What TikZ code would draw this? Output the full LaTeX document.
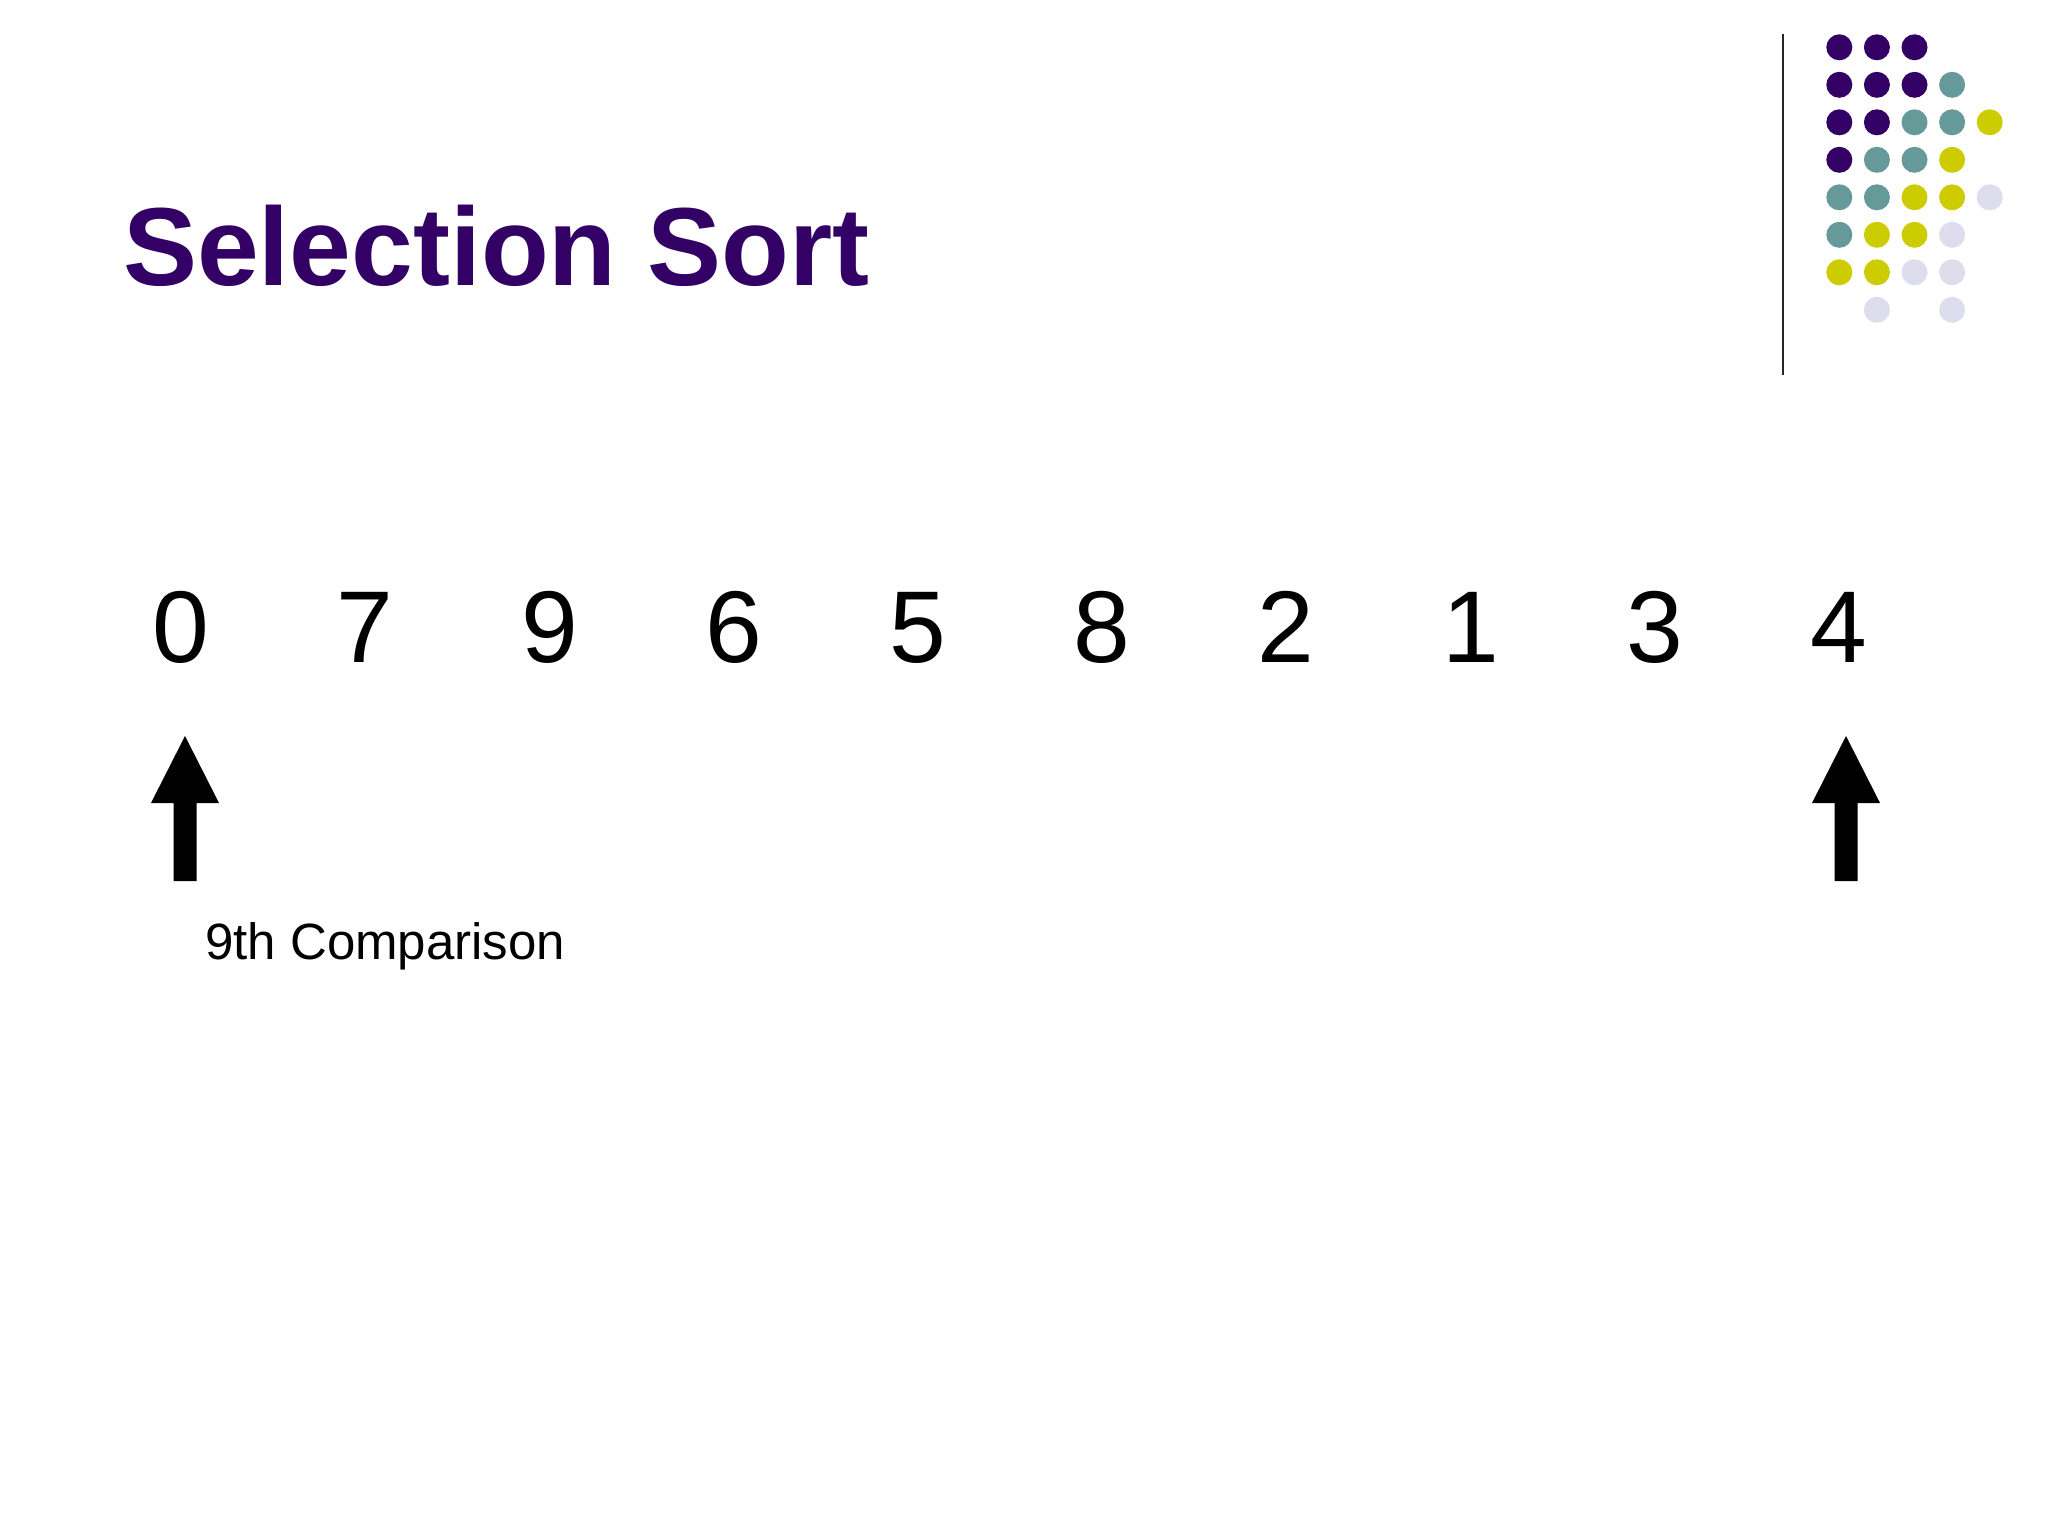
\documentclass[tikz,border=0pt]{standalone}
\usepackage{fontspec}
\setmainfont{Liberation Sans}
\definecolor{titlepurple}{HTML}{330066}
\definecolor{dotP}{HTML}{330066}
\definecolor{dotT}{HTML}{669999}
\definecolor{dotY}{HTML}{CCCC00}
\definecolor{dotL}{HTML}{DDDDEE}
\tikzset{
  digit/.style={anchor=base, inner sep=0pt, font=\fontsize{102}{102}\selectfont},
  dot/.style={circle, inner sep=0pt, minimum size=26pt},
  bigarrow/.style={fill=black},
}
\begin{document}
\begin{tikzpicture}[x=1pt,y=-1pt]
\useasboundingbox[fill=white] (0,0) rectangle (2048,1536);
% title
\node[anchor=base west, inner sep=0pt, text=titlepurple, font=\fontsize{111}{111}\selectfont\bfseries] (title) at (123,285) {Selection Sort};
% separator line
\coordinate (lt) at (1783,34);
\coordinate (lb) at (1783,375);
\draw[line width=2pt, black!85] (lt) -- (lb);
% dots
\foreach \r/\c/\col in {0/0/dotP,0/1/dotP,0/2/dotP,
  1/0/dotP,1/1/dotP,1/2/dotP,1/3/dotT,
  2/0/dotP,2/1/dotP,2/2/dotT,2/3/dotT,2/4/dotY,
  3/0/dotP,3/1/dotT,3/2/dotT,3/3/dotY,
  4/0/dotT,4/1/dotT,4/2/dotY,4/3/dotY,4/4/dotL,
  5/0/dotT,5/1/dotY,5/2/dotY,5/3/dotL,
  6/0/dotY,6/1/dotY,6/2/dotL,6/3/dotL,
  7/1/dotL,7/3/dotL}
  \node[dot, fill=\col] (d\r\c) at ({1839.3+37.6*\c},{47.3+37.5*\r}) {};
% digits
\foreach \v [count=\i from 0] in {0,7,9,6,5,8,2,1,3,4}
  \node[digit] (n\i) at ({181+184.2*\i},662) {\v};
% arrows
\foreach \name/\x in {a1/185,a2/1846}{
  \fill[bigarrow] (\x,736) -- (\x+34,803) -- (\x+11.5,803) -- (\x+11.5,881)
     -- (\x-11.5,881) -- (\x-11.5,803) -- (\x-34,803) -- cycle;
  \coordinate (\name) at (\x,736);
}
% label
\node[anchor=base west, inner sep=0pt, font=\fontsize{51}{51}\selectfont] (label) at (205,959) {9th Comparison};
\end{tikzpicture}
\end{document}
